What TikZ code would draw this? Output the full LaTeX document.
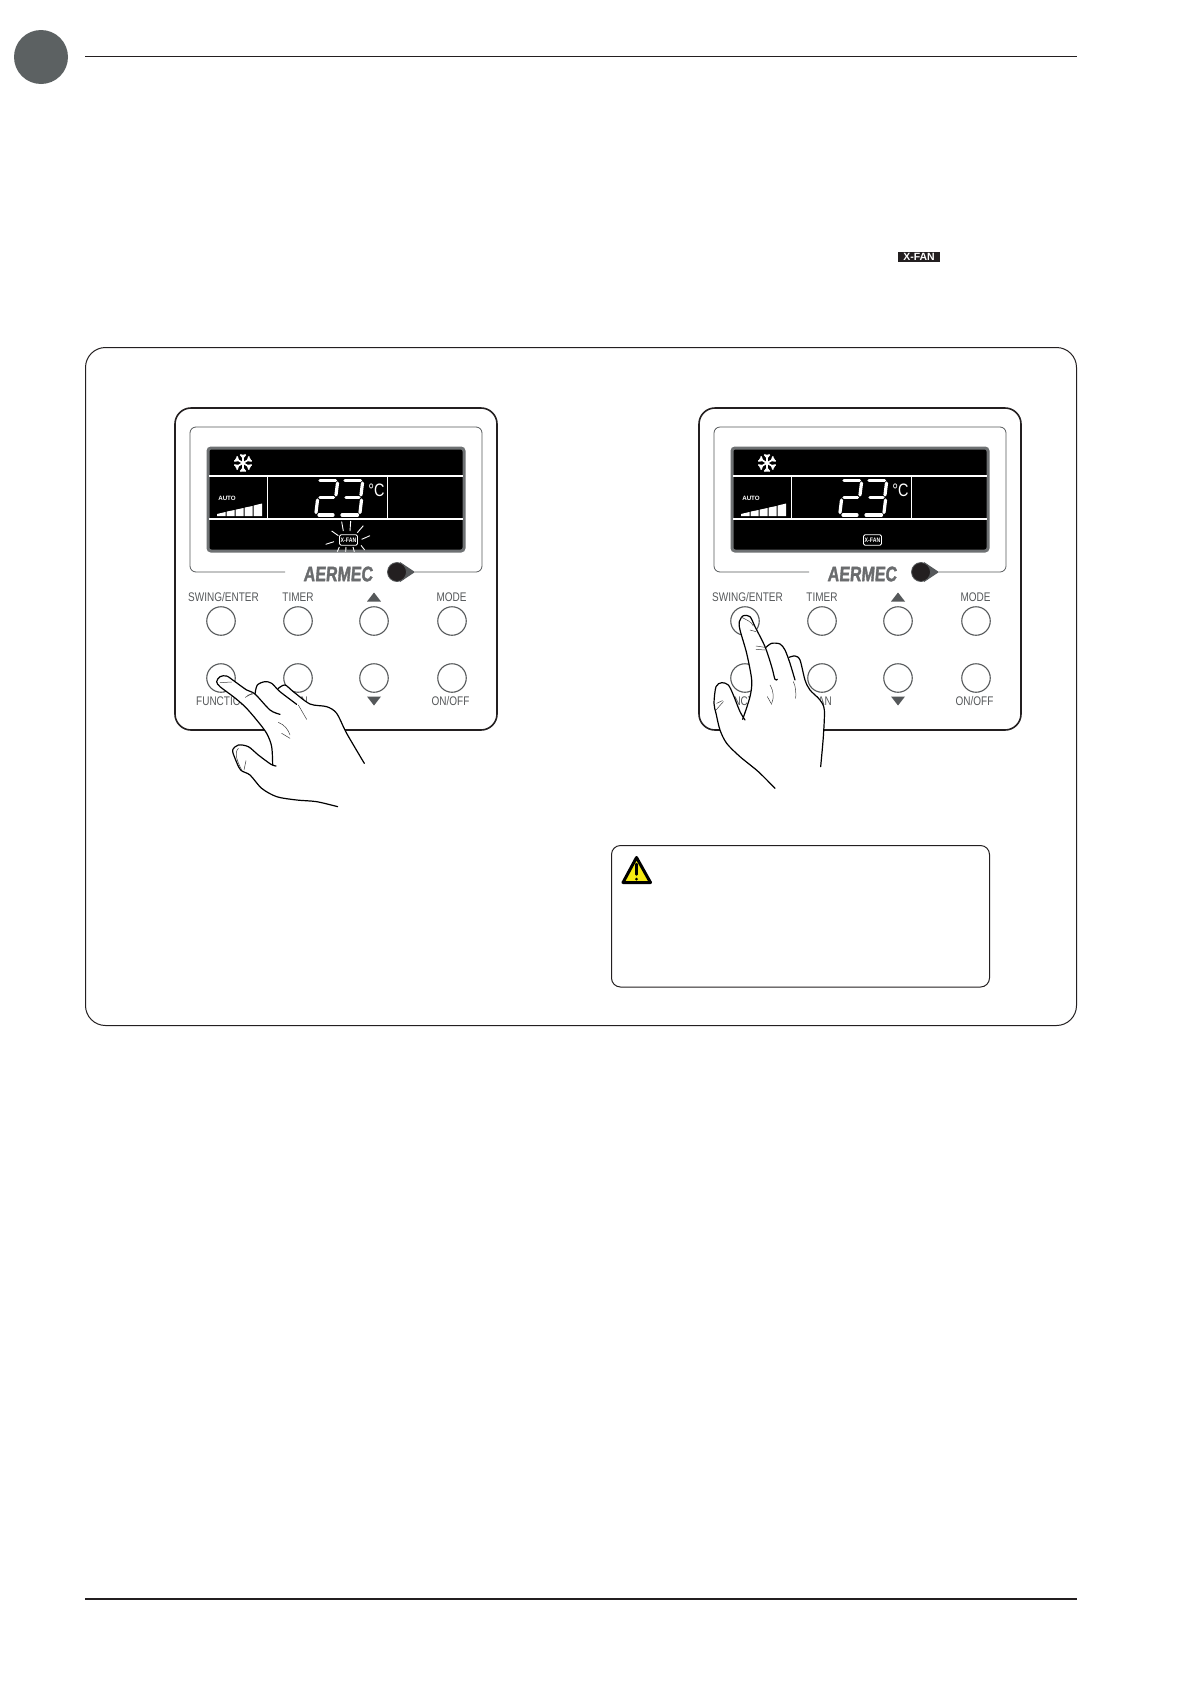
\documentclass[tikz,border=0pt]{standalone}
\usepackage{fontspec}
\setmainfont{Liberation Sans}
\newfontfamily\panelfont[FakeStretch=0.8]{Liberation Sans}
\newfontfamily\logofont[FakeStretch=0.76,FakeBold=1.6,FakeSlant=0.08]{Liberation Sans}
\definecolor{ink}{HTML}{231F20}
\definecolor{btn}{HTML}{55585A}
\definecolor{logogray}{HTML}{6A6C6E}
\definecolor{badge}{HTML}{5C6162}
\definecolor{warn}{HTML}{F6EA12}
\tikzset{
  panellabel/.style={font=\panelfont\fontsize{12.5}{13}\selectfont,text=btn,inner sep=0pt,anchor=center},
  btncircle/.style={circle,draw=btn,line width=1.1pt,minimum size=28.5pt,inner sep=0pt,fill=white},
  lcdline/.style={draw=white,line width=1.2pt},
  segment/.style={draw=white,line width=3.2pt,line cap=round},
  handline/.style={draw=black,line width=1.2pt,line join=round,line cap=round},
  creaseline/.style={draw=black!75,line width=.5pt,line cap=round},
  rayline/.style={draw=white,line width=.9pt},
  trigray/.style={fill=btn}
}
\newcommand{\ctrlpanel}[2]{%
\begin{scope}[shift={(#2,0)}]
  \draw[ink,line width=1.6pt,rounded corners=16pt,fill=white] (175,408) rectangle (497,730);
  \draw[btn,line width=.8pt,rounded corners=6pt] (285,572) -- (190,572) -- (190,427) -- (482,427) -- (482,572) -- (415,572);
  \draw[fill=black,draw=btn!85,line width=3pt,rounded corners=3pt] (208,448) rectangle (464,551);
  \draw[lcdline] (209,476) -- (463,476);
  \draw[lcdline] (209,519) -- (463,519);
  \draw[lcdline,line width=.9pt] (267,476) -- (267,519);
  \draw[lcdline,line width=.9pt] (387,476) -- (387,519);
  % snowflake
  \begin{scope}[shift={(243,463)}]
    \foreach \a in {30,90,150,210,270,330}{
      \draw[white,line width=1.7pt,rotate=\a] (0,0) -- (8.5,0) (5.5,0) -- (8.5,2.6) (5.5,0) -- (8.5,-2.6);
    }
  \end{scope}
  % digits
  \draw[segment] (320,480.5) -- (335.5,480.5);
  \draw[segment] (337.5,483) -- (336,495);
  \draw[segment] (320,497.5) -- (333.5,497.5);
  \draw[segment] (317.5,500) -- (316,512.5);
  \draw[segment] (319,515) -- (333,515);
  \draw[segment] (345,480.5) -- (360.5,480.5);
  \draw[segment] (362.5,483) -- (361,495);
  \draw[segment] (346,497.5) -- (359,497.5);
  \draw[segment] (361.5,500) -- (360,512.5);
  \draw[segment] (342,515) -- (357.5,515);
  \node[text=white,font=\panelfont\fontsize{18}{18}\selectfont,inner sep=0pt] (#1c) at (376.5,490) {°C};
  \node[text=white,font=\bfseries\fontsize{6.2}{7}\selectfont,inner sep=0pt] (#1auto) at (227,498) {AUTO};
  % fan bars
  \fill[white] (217,516) -- (217,514) -- (225.5,512) -- (225.5,516) -- cycle;
  \fill[white] (226.5,516) -- (226.5,511.6) -- (234.5,510) -- (234.5,516) -- cycle;
  \fill[white] (235.5,516) -- (235.5,509.7) -- (243.5,508) -- (243.5,516) -- cycle;
  \fill[white] (244.5,516) -- (244.5,507.6) -- (252.5,506) -- (252.5,516) -- cycle;
  \fill[white] (253.5,516) -- (253.5,505.6) -- (262,503.5) -- (262,516) -- cycle;
  % x-fan indicator
  \node[draw=white,line width=.9pt,rounded corners=1.5pt,minimum width=18pt,minimum height=10.5pt,inner sep=0pt,text=white,font=\bfseries\panelfont\fontsize{6.5}{7}\selectfont] (#1xfan) at (348.5,540) {X-FAN};
  % logo
  \node[text=logogray,font=\logofont\bfseries\fontsize{21}{21}\selectfont,inner sep=0pt] (#1logo) at (338,574) {AERMEC};
  \fill[btn] (400,562) -- (415,572) -- (400,582) -- cycle;
  \node[circle,fill=ink,draw=btn,line width=.8pt,minimum size=19pt,inner sep=0pt] (#1knob) at (397,572) {};
  % buttons and labels
  \node[btncircle] (#1b1) at (221,621) {};
  \node[btncircle] (#1b2) at (298,621) {};
  \node[btncircle] (#1b3) at (374,621) {};
  \node[btncircle] (#1b4) at (452,621) {};
  \node[btncircle] (#1b5) at (221,678) {};
  \node[btncircle] (#1b6) at (298,678) {};
  \node[btncircle] (#1b7) at (374,678) {};
  \node[btncircle] (#1b8) at (452,678) {};
  \node[panellabel] (#1swing) at (223.5,597) {SWING/ENTER};
  \node[panellabel] (#1timer) at (298,597) {TIMER};
  \node[panellabel] (#1mode) at (451.5,597) {MODE};
  \node[panellabel] (#1func) at (222,701) {FUNCTION};
  \node[panellabel] (#1fan) at (298,701) {FAN};
  \node[panellabel] (#1onoff) at (450.5,701) {ON/OFF};
  \fill[trigray] (367,601.5) -- (381,601.5) -- (374,592.5) -- cycle;
  \fill[trigray] (367,696.5) -- (381,696.5) -- (374,705.5) -- cycle;
\end{scope}}
\begin{document}
\begin{tikzpicture}[x=1pt,y=-1pt]
\useasboundingbox[fill=white] (0,0) rectangle (1190,1684);
% page furniture
\node[circle,fill=badge,minimum size=54pt,inner sep=0pt] (tab) at (41,57) {};
\draw[ink,line width=1pt] (85,56.5) -- (1077,56.5);
\draw[ink,line width=2pt] (85,1599) -- (1077,1599);
\node[fill=ink,text=white,font=\bfseries\fontsize{10.5}{11}\selectfont,minimum width=42pt,minimum height=10.5pt,inner sep=0pt] (tag) at (919,257) {X-FAN};
% frame
\draw[ink,line width=1pt,rounded corners=20pt] (85.5,347.5) rectangle (1076.5,1025.5);
\ctrlpanel{a}{0}
\ctrlpanel{c}{524}
% blinking rays, first panel
\begin{scope}[shift={(160,395)},xscale=1/3,yscale=1/3]
  \draw[rayline] (545,380) -- (550,408);
  \draw[rayline] (572,378) -- (570,408);
  \draw[rayline] (610,392) -- (592,413);
  \draw[rayline] (515,408) -- (535,422);
  \draw[rayline] (630,422) -- (605,433);
  \draw[rayline] (497,448) -- (522,440);
  \draw[rayline] (532,470) -- (538,456);
  \draw[rayline] (557,470) -- (558,456);
  \draw[rayline] (583,470) -- (579,456);
  \draw[rayline] (614,465) -- (603,451);
\end{scope}
% first hand
\begin{scope}[shift={(170,570)},xscale=1/3,yscale=1/3]
  \fill[white] plot[smooth,tension=.5] coordinates {(503,710) (440,695) (380,690) (320,680) (275,655) (240,615) (212,600) (195,565) (188,540) (205,525) (235,530) (265,555) (303,583) (318,588)}
    -- plot[smooth,tension=.5] coordinates {(308,585) (305,530) (290,490) (260,450) (225,410) (190,380) (150,350) (140,335) (150,320) (170,318) (195,335) (230,360) (255,372)}
    -- plot[smooth,tension=.5] coordinates {(255,372) (262,345) (285,335) (305,340) (330,365)}
    -- plot[smooth,tension=.5] coordinates {(325,355) (345,345) (370,365) (420,402) (470,410) (500,430) (530,490) (583,580)} -- cycle;
  \draw[handline] plot[smooth,tension=.5] coordinates {(503,710) (440,695) (380,690) (320,680) (275,655) (240,615) (212,600) (195,565) (188,540) (205,525) (235,530) (265,555) (303,583) (318,588)};
  \draw[handline] plot[smooth,tension=.5] coordinates {(308,585) (305,530) (290,490) (260,450) (225,410) (190,380) (150,350) (140,335) (150,320) (170,318) (195,335) (230,360) (255,372) (300,420) (330,433)};
  \draw[handline] plot[smooth,tension=.5] coordinates {(255,372) (262,345) (285,335) (305,340) (330,365) (380,403)};
  \draw[handline] plot[smooth,tension=.5] coordinates {(325,355) (345,345) (370,365) (420,402) (470,410) (500,430) (530,490) (583,580)};
  \draw[creaseline] (226,382) -- (250,368);
  \draw[creaseline] (232,376) -- (248,372);
  \draw[creaseline] (325,457) .. controls (345,465) and (355,480) .. (360,495);
  \draw[creaseline] (335,490) -- (360,505);
  \draw[creaseline] (385,405) -- (410,448);
  \draw[creaseline] (205,535) .. controls (190,550) and (205,580) .. (215,600);
  \draw[creaseline] (228,572) -- (222,600);
  \draw[creaseline] (150,338) -- (185,336);
\end{scope}
% second hand
\begin{scope}[shift={(690,570)},xscale=1/3,yscale=1/3]
  \fill[white] plot[smooth,tension=.5] coordinates {(255,655) (205,605) (150,560) (110,520) (90,480) (78,430) (72,400) (78,350) (95,338) (115,345) (130,375) (150,425) (165,450)}
    -- plot[smooth,tension=.5] coordinates {(158,448) (180,380) (185,330) (170,250) (150,180) (148,155) (160,137) (180,140) (195,170) (225,230)}
    -- plot[smooth,tension=.5] coordinates {(228,232) (245,220) (270,222) (285,240) (297,262)}
    -- plot[smooth,tension=.5] coordinates {(297,262) (315,258) (330,270) (345,330) (360,360) (390,390) (403,420) (400,500) (392,590)} -- cycle;
  \draw[handline] plot[smooth,tension=.5] coordinates {(255,655) (205,605) (150,560) (110,520) (90,480) (78,430) (72,400) (78,350) (95,338) (115,345) (130,375) (150,425) (165,450)};
  \draw[handline] plot[smooth,tension=.5] coordinates {(158,448) (180,380) (185,330) (170,250) (150,180) (148,155) (160,137) (180,140) (195,170) (225,230) (245,290) (255,328) (262,328)};
  \draw[handline] plot[smooth,tension=.5] coordinates {(228,232) (245,220) (270,222) (285,240) (300,280) (315,330)};
  \draw[handline] plot[smooth,tension=.5] coordinates {(297,262) (315,258) (330,270) (345,330) (360,360) (390,390) (403,420) (400,500) (392,590)};
  \draw[creaseline] (198,228) -- (225,232);
  \draw[creaseline] (198,238) -- (225,240);
  \draw[creaseline] (240,345) .. controls (252,365) and (252,385) .. (245,400);
  \draw[creaseline] (232,380) -- (245,403);
  \draw[creaseline] (310,335) .. controls (318,350) and (318,370) .. (317,385);
  \draw[creaseline] (80,400) -- (97,392);
  \draw[creaseline] (78,420) -- (100,395);
  \draw[creaseline] (155,142) .. controls (170,150) and (185,155) .. (190,168);
  \draw[creaseline] (180,180) -- (198,185);
\end{scope}
% warning box
\draw[ink,line width=1pt,rounded corners=9pt] (611.5,845.5) rectangle (989.5,987);
\draw[black,fill=warn,line width=3pt,line join=round] (636.5,857.5) -- (650.5,882.5) -- (623,882.5) -- cycle;
\draw[black,line width=2.4pt,line cap=round] (636.5,864) -- (636.5,874.5);
\fill[black] (636.5,879) circle (1.5pt);
\end{tikzpicture}
\end{document}
